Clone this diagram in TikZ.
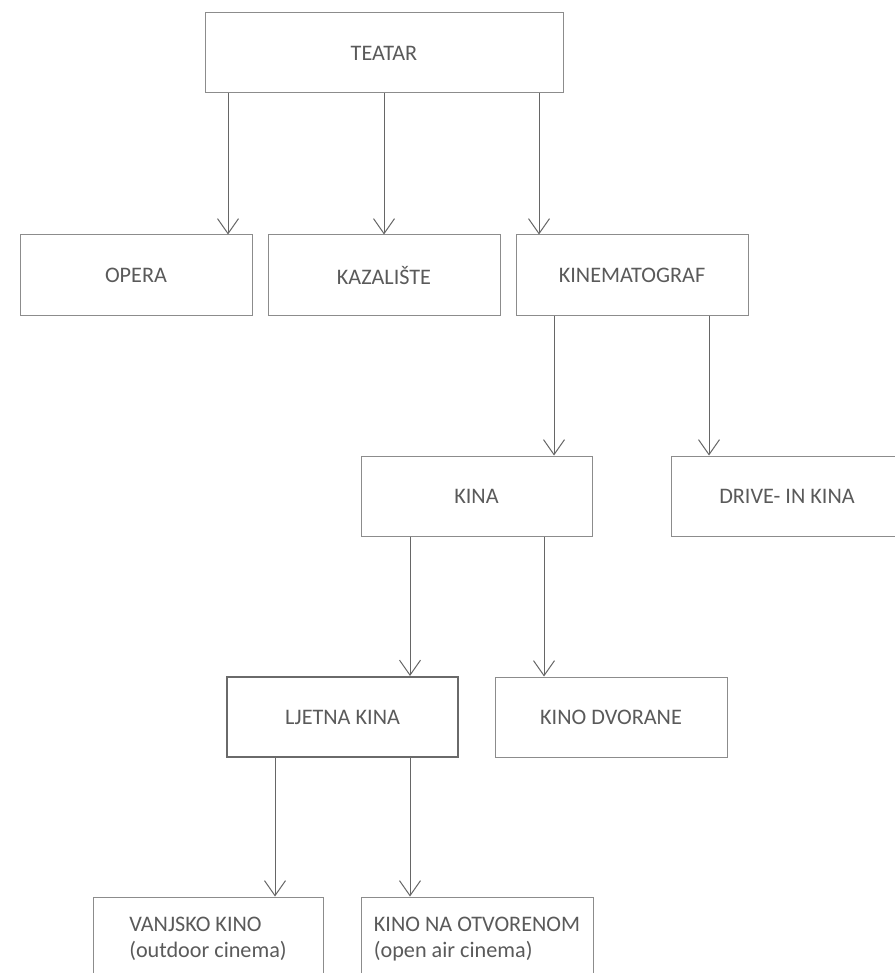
\documentclass[tikz,border=0pt]{standalone}
\usepackage{fontspec}
\setmainfont{Carlito}
\usetikzlibrary{arrows.meta}
\definecolor{txt}{HTML}{5A5A5A}
\definecolor{bord}{HTML}{8C8C8C}
\definecolor{arrc}{HTML}{666666}
\definecolor{bold}{HTML}{6A6A6A}
\begin{document}
\begin{tikzpicture}[x=1pt,y=-1pt,
  box/.style={draw=bord, line width=1pt, text=txt, font=\fontsize{22.2}{26}\selectfont,
    minimum height=80pt, minimum width=232pt, inner sep=0pt, align=center},
  conn/.style={draw=arrc, line width=1pt, -{Straight Barb[length=15pt,width=21pt]}}]
\fill[white] (0,0) rectangle (894,973);
\useasboundingbox (0,0) rectangle (894,973);
% level 0
\node[box, minimum width=358pt] (teatar) at (384,53) {TEATAR};
% level 1
\node[box] (opera) at (136,275) {OPERA};
\node[box] (kaz) at (384,275) {KAZALIŠTE};
\node[box] (kinem) at (632,275) {KINEMATOGRAF};
% level 2
\node[box, minimum width=231pt] (kina) at (476.5,496) {KINA};
\node[box] (drive) at (787,496) {DRIVE- IN KINA};
% level 3
\node[box, draw=bold, line width=2pt, minimum width=231pt] (ljetna) at (342.5,717) {LJETNA KINA};
\node[box] (dvorane) at (611,717) {KINO DVORANE};
% level 4
\node[box, align=left, minimum width=230pt, minimum height=84pt] (vanjsko) at (208,939) {VANJSKO KINO\\(outdoor cinema)};
\node[box, align=left, minimum width=232pt, minimum height=84pt] (otvoreno) at (477,939) {KINO NA OTVORENOM\\(open air cinema)};
% connectors
\draw[conn] (teatar.south -| 228,0) -- (opera.north -| 228,0);
\draw[conn] (teatar.south -| 384,0) -- (kaz.north -| 384,0);
\draw[conn] (teatar.south -| 539,0) -- (kinem.north -| 539,0);
\draw[conn] (kinem.south -| 554,0) -- (kina.north -| 554,0);
\draw[conn] (kinem.south -| 709,0) -- (drive.north -| 709,0);
\draw[conn] (kina.south -| 410,0) -- (ljetna.north -| 410,0);
\draw[conn] (kina.south -| 544,0) -- (dvorane.north -| 544,0);
\draw[conn] (ljetna.south -| 275,0) -- (vanjsko.north -| 275,0);
\draw[conn] (ljetna.south -| 410,0) -- (otvoreno.north -| 410,0);
\end{tikzpicture}
\end{document}
